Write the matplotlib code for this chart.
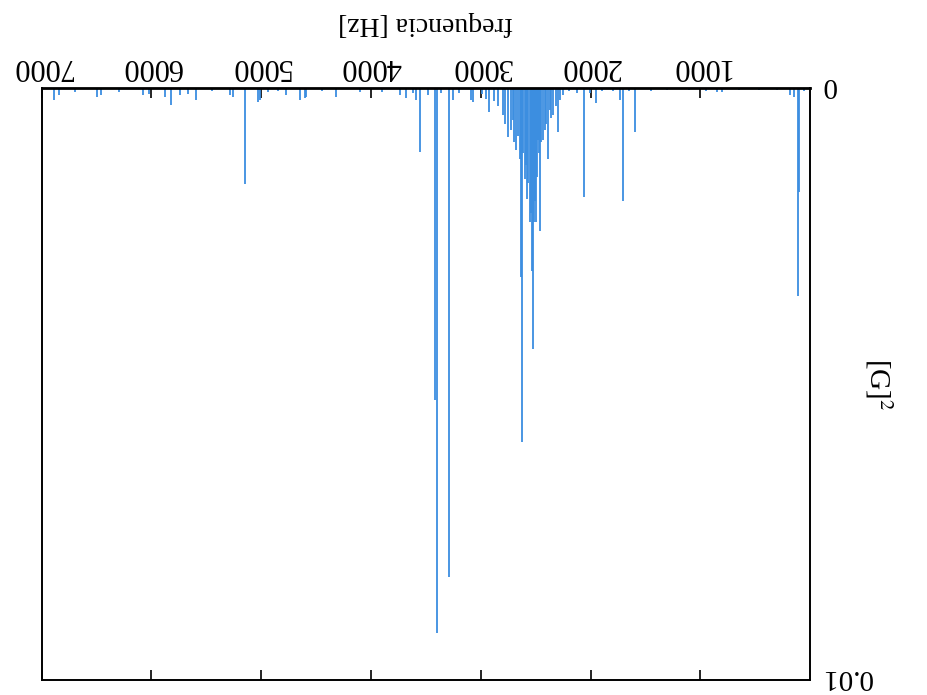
import matplotlib
matplotlib.use("Agg")
import matplotlib.pyplot as plt

plt.rcParams['font.family'] = ['Liberation Serif', 'DejaVu Serif']
plt.rcParams['mathtext.fontset'] = 'stix'

freq_hz = [6891, 6845, 6700, 6500, 6464, 6300, 6073, 6027, 5873, 5818, 5736, 5664, 5591,
           5450, 5282, 5255, 5145, 5027, 5009, 4936, 4850, 4773, 4645, 4600, 4591, 4450,
           4318, 4100, 3900, 3736, 3682, 3620, 3591, 3555, 3482, 3418, 3400, 3364, 3291,
           3255, 3200, 3091, 3073, 2990, 2950, 2927, 2880, 2840, 2800, 2780, 2755, 2727,
           2709, 2695, 2682, 2660, 2645, 2636, 2627, 2615, 2600, 2590, 2582, 2570, 2555,
           2545, 2536, 2527, 2518, 2509, 2500, 2491, 2482, 2473, 2464, 2450, 2436, 2420,
           2405, 2391, 2373, 2360, 2345, 2320, 2300, 2275, 2255, 2200, 2120, 2064, 2010,
           1955, 1900, 1800, 1736, 1709, 1650, 1600, 1450, 1300, 1100, 950, 845, 800,
           650, 464, 300, 182, 145, 109, 100, 60]
psd = [0.0002, 0.00012, 0.00006, 0.00015, 0.00012, 0.00006, 0.00012, 0.0001, 0.00015,
       0.00028, 0.00012, 0.0001, 0.0002, 0.00005, 0.00012, 0.00015, 0.00162, 0.00023,
       0.0002, 0.00007, 0.00005, 0.00012, 0.0002, 0.00017, 0.00015, 0.00005, 0.00015,
       0.00006, 0.00007, 0.00012, 0.00017, 0.00008, 0.0002, 0.00107, 0.00012, 0.00527,
       0.0092, 0.00008, 0.00826, 0.0002, 0.00008, 0.0002, 0.00023, 0.0001, 0.00018,
       0.0004, 0.00022, 0.0003, 0.00045, 0.0006, 0.00082, 0.0007, 0.00054, 0.0009,
       0.00104, 0.0008, 0.0012, 0.00318, 0.00597, 0.0011, 0.00154, 0.0013, 0.00187,
       0.0016, 0.00226, 0.0021, 0.00309, 0.00441, 0.00226, 0.0019, 0.00226, 0.0015,
       0.00087, 0.0011, 0.00241, 0.0009, 0.00087, 0.0007, 0.0006, 0.0012, 0.00037,
       0.0005, 0.00045, 0.0003, 0.00074, 0.0002, 0.00012, 0.00005, 0.00008, 0.00184,
       0.00008, 0.00025, 0.00005, 0.00004, 0.0002, 0.00191, 0.00005, 0.00074, 0.00004,
       0.00003, 0.00003, 0.00004, 0.00007, 0.00006, 0.00003, 0.00003, 0.00003, 0.00012,
       0.00015, 0.00351, 0.00176, 0.00005]

xtick_vals = [1000, 2000, 3000, 4000, 5000, 6000, 7000]
ytick_vals = [0, 0.01]
ytick_labels = ['0', '0.01']

fig = plt.figure(figsize=(9.27, 6.95), dpi=100)
ax = fig.add_axes([0.045, 0.021, 0.829, 0.852])

ax.vlines(freq_hz, 0, psd, color='#3b8de0', linewidth=1.3)

# the scanned page is rotated 180 degrees
ax.set_xlim(7000, 0)
ax.set_ylim(0.01, 0)
ax.xaxis.tick_top()
ax.xaxis.set_label_position('top')
ax.yaxis.tick_right()
ax.yaxis.set_label_position('right')
ax.set_xticks(xtick_vals)
ax.set_yticks(ytick_vals)
ax.set_yticklabels(ytick_labels, rotation=180, rotation_mode='anchor',
                   ha='right', va='center_baseline', fontsize=21)
ax.tick_params(axis='x', which='both', direction='in', top=True, bottom=True,
               labeltop=True, labelbottom=False, length=7, width=1.2,
               labelsize=22, labelrotation=180, pad=5)
ax.tick_params(axis='y', direction='in', right=True, left=False, length=0, pad=8)

ax.set_xlabel('frequencia [Hz]', fontsize=20, rotation=180, labelpad=16)
ax.set_ylabel('[G]$^2$', fontsize=21, rotation=270, labelpad=16)

for s in ax.spines.values():
    s.set_linewidth(1.4)
ax.spines['top'].set_linewidth(2.0)

fig.savefig('out.png', dpi=100)
